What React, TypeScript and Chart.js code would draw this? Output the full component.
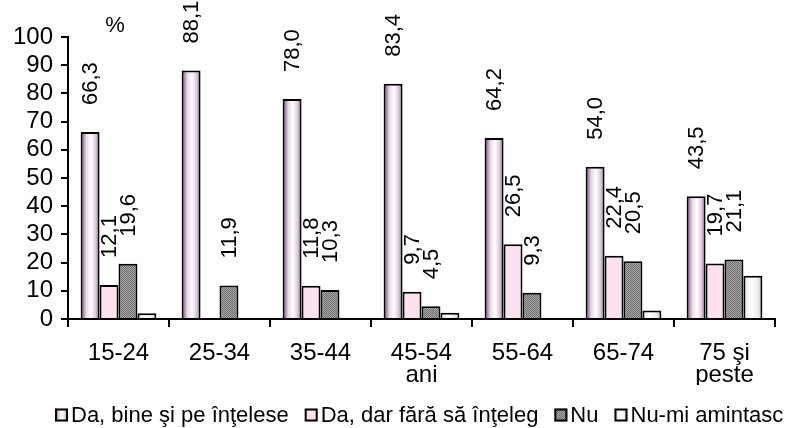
import React, { useEffect, useRef } from "react";
import { Chart, registerables } from "chart.js";

Chart.register(...registerables);

const categories: (string | string[])[] = [
  "15-24",
  "25-34",
  "35-44",
  ["45-54", "ani"],
  "55-64",
  "65-74",
  ["75 şi", "peste"],
];
const seriesNames = [
  "Da, bine şi pe înţelese",
  "Da, dar fără să înţeleg",
  "Nu",
  "Nu-mi amintasc",
];
const daBine = [66.3, 88.1, 78.0, 83.4, 64.2, 54.0, 43.5];
const daDar = [12.1, null, 11.8, 9.7, 26.5, 22.4, 19.7];
const nu = [19.6, 11.9, 10.3, 4.5, 9.3, 20.5, 21.1];
const nuMiAmintesc = [2.0, null, null, 2.2, null, 3.0, 15.3];
const labelledSeries = [0, 1, 2];
const unitLabel = "%";

const FONT = "'Liberation Sans', Arial, sans-serif";

const GRADIENTS: Record<number, [number, string][]> = {
  0: [
    [0, "#663366"],
    [0.12, "#a07aa0"],
    [0.3, "#e6dae6"],
    [0.55, "#ffffff"],
    [0.8, "#d8c8d8"],
    [1, "#8a5e8a"],
  ],
  3: [
    [0, "#dcdcdc"],
    [0.35, "#ffffff"],
    [0.7, "#f2f2f2"],
    [1, "#c8c8c8"],
  ],
};

function makeGradient(ctx: CanvasRenderingContext2D, x0: number, x1: number, stops: [number, string][]) {
  const g = ctx.createLinearGradient(x0, 0, x1, 0);
  stops.forEach(([o, c]) => g.addColorStop(o, c));
  return g;
}

function makeDotPattern(): CanvasPattern | string {
  const c = document.createElement("canvas");
  c.width = 2;
  c.height = 2;
  const cx = c.getContext("2d");
  if (!cx) return "#8c8c8c";
  cx.fillStyle = "#a8a8a8";
  cx.fillRect(0, 0, 2, 2);
  cx.fillStyle = "#6e6e6e";
  cx.fillRect(0, 0, 1, 1);
  cx.fillRect(1, 1, 1, 1);
  const p = cx.createPattern(c, "repeat");
  return p || "#8c8c8c";
}

const fmt = (v: number) => v.toFixed(1).replace(".", ",");

export default function App() {
  const ref = useRef<HTMLCanvasElement | null>(null);

  useEffect(() => {
    document.body.style.margin = "0";
    const canvas = ref.current;
    if (!canvas) return;
    const dotPattern = makeDotPattern();
    const pink = "#fde1f0";

    const barFill = {
      id: "barFill",
      beforeDatasetDraw(chart: any, args: any) {
        const stops = GRADIENTS[args.index];
        if (!stops) return;
        const ctx = chart.ctx;
        args.meta.data.forEach((el: any) => {
          const { x, width } = el.getProps(["x", "width"], true);
          if (!el.options || !isFinite(x) || !isFinite(width)) return;
          el.options.backgroundColor = makeGradient(ctx, x - width / 2, x + width / 2, stops);
        });
      },
    };

    const dataLabels = {
      id: "dataLabels",
      afterDatasetsDraw(chart: any) {
        const ctx = chart.ctx;
        ctx.save();
        ctx.font = `22px ${FONT}`;
        ctx.fillStyle = "#000";
        ctx.textAlign = "left";
        ctx.textBaseline = "middle";
        labelledSeries.forEach((di) => {
          const meta = chart.getDatasetMeta(di);
          const data = chart.data.datasets[di].data;
          meta.data.forEach((el: any, i: number) => {
            const v = data[i];
            if (v === null || v === undefined) return;
            const { x, y } = el.getProps(["x", "y"], true);
            ctx.save();
            ctx.translate(x + 1, y - 27);
            ctx.rotate(-Math.PI / 2);
            ctx.fillText(fmt(v as number), 0, 0);
            ctx.restore();
          });
        });
        ctx.restore();
      },
    };

    const extras = {
      id: "extras",
      afterDraw(chart: any) {
        const ctx = chart.ctx;
        const area = chart.chartArea;
        ctx.save();
        // unit label
        ctx.font = `22px ${FONT}`;
        ctx.fillStyle = "#000";
        ctx.textAlign = "center";
        ctx.textBaseline = "middle";
        ctx.fillText(unitLabel, area.left + 47, area.top - 11);

        // legend
        const fills: any[] = [null, pink, dotPattern, null];
        ctx.font = `22px ${FONT}`;
        ctx.textAlign = "left";
        ctx.textBaseline = "middle";
        const box = 13;
        const gapText = 3;
        const gapItem = 16;
        const yC = chart.height - 13;
        let x = 55;
        seriesNames.forEach((name, i) => {
          const bx = x;
          const by = yC - box / 2;
          const stops = GRADIENTS[i];
          ctx.fillStyle = stops ? makeGradient(ctx, bx, bx + box, stops) : fills[i];
          ctx.fillRect(bx, by, box, box);
          ctx.strokeStyle = "#000";
          ctx.lineWidth = 2;
          ctx.strokeRect(bx + 1, by + 1, box - 2, box - 2);
          ctx.fillStyle = "#000";
          const tx = bx + box + gapText;
          ctx.fillText(name, tx, yC + 1);
          x = tx + ctx.measureText(name).width + gapItem;
        });
        ctx.restore();
      },
    };

    const nonShared = (c: string) => () => c;

    const chart = new Chart(canvas, {
      type: "bar",
      data: {
        labels: categories,
        datasets: [
          { label: seriesNames[0], data: daBine, backgroundColor: nonShared("#d8c8d8") },
          { label: seriesNames[1], data: daDar, backgroundColor: pink },
          { label: seriesNames[2], data: nu, backgroundColor: dotPattern as any },
          { label: seriesNames[3], data: nuMiAmintesc, backgroundColor: nonShared("#f0f0f0") },
        ] as any,
      },
      options: {
        responsive: false,
        animation: false,
        events: [],
        datasets: {
          bar: {
            borderColor: "#000",
            borderWidth: 2,
            categoryPercentage: 0.75,
            barPercentage: 1,
          },
        } as any,
        layout: { padding: { top: 37, right: 11, bottom: 43, left: 0 } },
        plugins: {
          legend: { display: false },
          tooltip: { enabled: false },
          title: { display: false },
        },
        scales: {
          x: {
            grid: {
              drawOnChartArea: false,
              offset: true,
              tickLength: 8,
              color: "#000",
              lineWidth: 2,
            },
            border: { display: true, color: "#000", width: 2 },
            ticks: {
              color: "#000",
              font: { family: FONT, size: 24, lineHeight: 0.9 },
              padding: 16,
              maxRotation: 0,
              autoSkip: false,
            },
            afterFit: (s: any) => {
              s.height = 66;
            },
          },
          y: {
            min: 0,
            max: 100,
            grid: {
              drawOnChartArea: false,
              tickLength: 7,
              color: "#000",
              lineWidth: 2,
            },
            border: { display: true, color: "#000", width: 2 },
            ticks: {
              stepSize: 10,
              autoSkip: false,
              color: "#000",
              font: { family: FONT, size: 24, lineHeight: 1 },
              padding: 8,
            },
            afterFit: (s: any) => {
              s.width = 68;
            },
          },
        },
      },
      plugins: [barFill, dataLabels, extras],
    });

    return () => chart.destroy();
  }, []);

  return (
    <div style={{ width: 786, height: 428, background: "#fff" }}>
      <canvas ref={ref} width={786} height={428} style={{ display: "block" }} />
    </div>
  );
}
